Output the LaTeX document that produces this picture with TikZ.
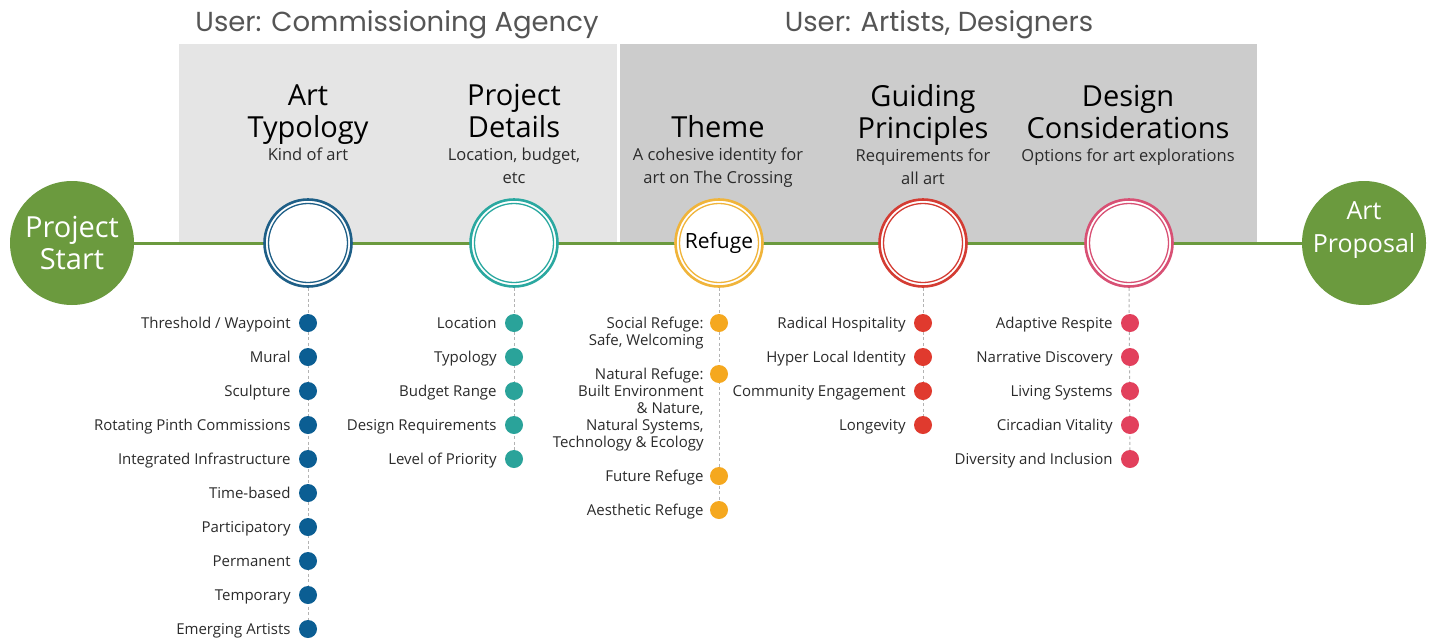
\documentclass[tikz,border=0pt]{standalone}
\usepackage{fontspec}
\setmainfont{Open Sans}
\newfontfamily\hdrfont{Poppins}
\definecolor{grn}{HTML}{6B9A3E}
\definecolor{boxlight}{HTML}{E5E5E5}
\definecolor{boxdark}{HTML}{CCCCCC}
\definecolor{hdrgray}{HTML}{555555}
\definecolor{txt}{HTML}{2B2B2B}
\definecolor{dashgray}{HTML}{B3B3B3}
\definecolor{blueR}{HTML}{1E5F87}
\definecolor{blueD}{HTML}{0B5E93}
\definecolor{tealR}{HTML}{2AA8A0}
\definecolor{tealD}{HTML}{2AA39A}
\definecolor{orR}{HTML}{F0B43A}
\definecolor{orD}{HTML}{F5A81F}
\definecolor{redR}{HTML}{D43C33}
\definecolor{redD}{HTML}{E03A2E}
\definecolor{pinkR}{HTML}{D85074}
\definecolor{pinkD}{HTML}{E2405C}
\pgfdeclarelayer{bgboxes}
\pgfdeclarelayer{bglines}
\pgfsetlayers{bgboxes,bglines,main}
\begin{document}
\begin{tikzpicture}[x=1pt,y=-1pt,
  hdr/.style={font=\hdrfont\fontsize{27.5}{30}\selectfont, text=hdrgray, anchor=base, inner sep=0},
  ttl/.style={font=\fontsize{29}{32}\selectfont, text=black, align=center, anchor=base, inner sep=0},
  sub/.style={font=\fontsize{16.5}{23}\selectfont, text=txt, align=center, anchor=base, inner sep=0},
  lbl/.style={font=\fontsize{15}{17}\selectfont, text=txt, align=right, anchor=base east, inner sep=0},
  dot/.style={circle, minimum size=18, inner sep=0, fill=#1},
  stage/.style={circle, minimum size=87, inner sep=0, draw=#1, line width=2.6, fill=white, font=\fontsize{21}{24}\selectfont},
  ring/.style={draw=#1, line width=1.3},
  endpt/.style={circle, fill=grn, minimum size=124, inner sep=0},
  endtxt/.style={text=white, align=center, inner sep=0},
  vline/.style={draw=dashgray, line width=1, dash pattern=on 3pt off 2.5pt},
  tline/.style={draw=grn, line width=3}
]
\useasboundingbox (0,0) rectangle (1439,640);

% boxes
\begin{pgfonlayer}{bgboxes}
\fill[white] (0,0) rectangle (1439,640);
\fill[boxlight] (179,44) rectangle (617,242);
\fill[boxdark] (620,44) rectangle (1257,242);
\end{pgfonlayer}

% headers
\node[hdr] (h1) at (397,31) {User: Commissioning Agency};
\node[hdr] (h2) at (939,31) {User: Artists, Designers};

% end points
\node[endpt] (ps) at (72,243) {};
\node[endtxt, font=\fontsize{29}{32}\selectfont] (pst) at (ps.center) {Project\\Start};
\node[endpt] (ap) at (1364,243) {};
\node[endtxt, font=\fontsize{25}{33}\selectfont] (apt) at ([yshift=13pt]ap.center) {Art\\Proposal};

% stages
\node[stage=blueR] (s1) at (308,243) {};
\node[stage=tealR] (s2) at (514,243) {};
\node[stage=orR] (s3) at (719,243) {Refuge};
\node[stage=redR] (s4) at (923,243) {};
\node[stage=pinkR] (s5) at (1129,243) {};
\draw[ring=blueR] (s1.center) circle (39.5);
\draw[ring=tealR] (s2.center) circle (39.5);
\draw[ring=orR] (s3.center) circle (39.5);
\draw[ring=redR] (s4.center) circle (39.5);
\draw[ring=pinkR] (s5.center) circle (39.5);

\begin{pgfonlayer}{bglines}
\draw[tline] (ps.east) -- (ap.west);
\end{pgfonlayer}

% titles (base anchor = baseline of last line)
\node[ttl] (t1) at (308,137) {Art\\Typology};
\node[sub] (u1) at (308,160) {Kind of art};
\node[ttl] (t2) at (514,137) {Project\\Details};
\node[sub] (u2) at (514,183) {Location, budget,\\etc};
\node[ttl] (t3) at (718,137) {Theme};
\node[sub] (u3) at (718,183) {A cohesive identity for\\art on The Crossing};
\node[ttl] (t4) at (923,138) {Guiding\\Principles};
\node[sub] (u4) at (923,184) {Requirements for\\all art};
\node[ttl] (t5) at (1128,138) {Design\\Considerations};
\node[sub] (u5) at (1128,161) {Options for art explorations};

% Art Typology items
\foreach \i/\t in {1/{Threshold / Waypoint},2/Mural,3/Sculpture,4/{Rotating Pinth Commissions},5/{Integrated Infrastructure},6/Time-based,7/Participatory,8/Permanent,9/Temporary,10/{Emerging Artists}}{
  \node[dot=blueD] (a\i) at (308,{323+34*(\i-1)}) {};
  \node[lbl] (al\i) at ([xshift=-8pt,yshift=-5pt]a\i.west) {\t};
}
% Project Details items
\foreach \i/\t in {1/Location,2/Typology,3/{Budget Range},4/{Design Requirements},5/{Level of Priority}}{
  \node[dot=tealD] (b\i) at (514,{323+34*(\i-1)}) {};
  \node[lbl] (bl\i) at ([xshift=-8pt,yshift=-5pt]b\i.west) {\t};
}
% Theme items
\node[dot=orD] (c1) at (719,323) {};
\node[lbl] (cl1) at ([xshift=-6pt,yshift=-22pt]c1.west) {Social Refuge:\\Safe, Welcoming};
\node[dot=orD] (c2) at (719,374) {};
\node[lbl] (cl2) at ([xshift=-6pt,yshift=-73pt]c2.west) {Natural Refuge:\\Built Environment\\\& Nature,\\Natural Systems,\\Technology \& Ecology};
\node[dot=orD] (c3) at (719,476) {};
\node[lbl] (cl3) at ([xshift=-6pt,yshift=-5pt]c3.west) {Future Refuge};
\node[dot=orD] (c4) at (719,510) {};
\node[lbl] (cl4) at ([xshift=-6pt,yshift=-5pt]c4.west) {Aesthetic Refuge};
% Guiding Principles items
\foreach \i/\t in {1/{Radical Hospitality},2/{Hyper Local Identity},3/{Community Engagement},4/Longevity}{
  \node[dot=redD] (d\i) at (923,{323+34*(\i-1)}) {};
  \node[lbl] (dl\i) at ([xshift=-8pt,yshift=-5pt]d\i.west) {\t};
}
% Design Considerations items
\foreach \i/\t in {1/{Adaptive Respite},2/{Narrative Discovery},3/{Living Systems},4/{Circadian Vitality},5/{Diversity and Inclusion}}{
  \node[dot=pinkD] (e\i) at (1130,{323+34*(\i-1)}) {};
  \node[lbl] (el\i) at ([xshift=-8pt,yshift=-5pt]e\i.west) {\t};
}

% dashed connectors
\begin{pgfonlayer}{bglines}
\draw[vline] (s1.south) -- (a10.center);
\draw[vline] (s2.south) -- (b5.center);
\draw[vline] (s3.south) -- (c4.center);
\draw[vline] (s4.south) -- (d4.center);
\draw[vline] (s5.south) -- (e5.center);
\end{pgfonlayer}
\end{tikzpicture}
\end{document}
